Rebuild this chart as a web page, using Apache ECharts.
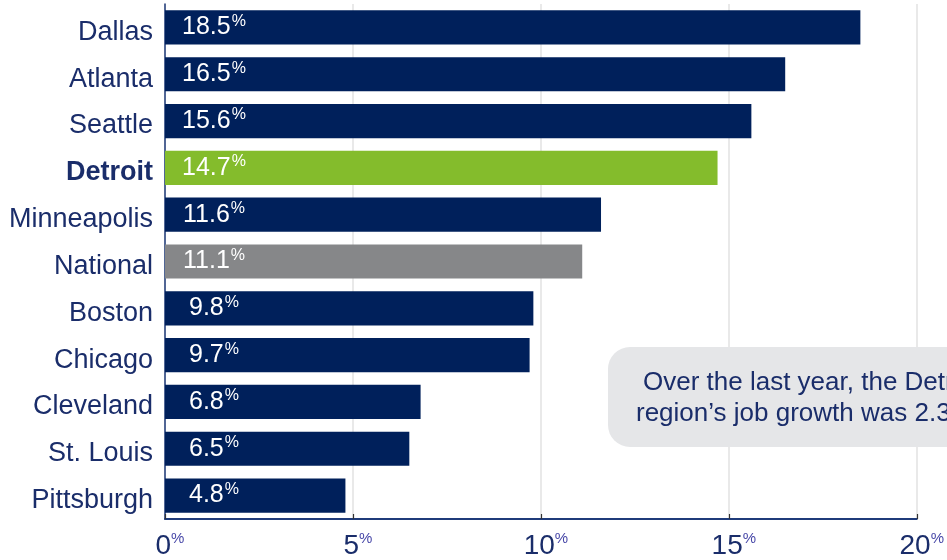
<!DOCTYPE html>
<html>
<head>
<meta charset="utf-8">
<script src="https://cdn.jsdelivr.net/npm/echarts@6/dist/echarts.min.js"></script>
<style>
html,body{margin:0;padding:0;background:#fff;}
#chart{width:947px;height:560px;}
</style>
</head>
<body>
<div id="chart"></div>
<script>
// ---- data ----
const cities = ['Dallas','Atlanta','Seattle','Detroit','Minneapolis','National','Boston','Chicago','Cleveland','St. Louis','Pittsburgh'];
const growth = [18.5, 16.5, 15.6, 14.7, 11.6, 11.1, 9.8, 9.7, 6.8, 6.5, 4.8];
const xTickValues = [0, 5, 10, 15, 20];
const highlightCity = 'Detroit';
const benchmarkCity = 'National';
const calloutLines = ['Over the last year, the Detroit', 'region\u2019s job growth was 2.3%'];

// ---- styles ----
const NAVY = '#00205b';
const GREEN = '#84bc2c';
const GRAY = '#868789';
const TEXT = '#1a2d6a';
const FONT = '"Liberation Sans", Arial, sans-serif';

const chart = echarts.init(document.getElementById('chart'));

const barData = cities.map((c, i) => ({
  value: growth[i],
  itemStyle: { color: c === highlightCity ? GREEN : (c === benchmarkCity ? GRAY : NAVY) }
}));

const option = {
  animation: false,
  grid: { left: 165, right: 26, top: 4, bottom: 40, containLabel: false },
  xAxis: {
    type: 'value',
    min: xTickValues[0],
    max: xTickValues[xTickValues.length - 1],
    interval: xTickValues[1] - xTickValues[0],
    axisLine: { show: true, lineStyle: { color: '#1f3b7a', width: 2 } },
    axisTick: { show: true, inside: true, length: 5, lineStyle: { color: '#333', width: 1.2 } },
    splitLine: { show: true, lineStyle: { color: '#e2e2e2', width: 1.5 } },
    axisLabel: {
      margin: 12,
      padding: [0, 0, 0, 10],
      formatter: v => '{n|' + v + '}{p|%}',
      rich: {
        n: { fontFamily: FONT, fontSize: 28, color: TEXT, lineHeight: 30 },
        p: { fontFamily: FONT, fontSize: 15, color: '#4848a8', verticalAlign: 'top', lineHeight: 12 }
      }
    }
  },
  yAxis: {
    type: 'category',
    data: cities,
    inverse: true,
    axisLine: { show: true, lineStyle: { color: '#1f3b7a', width: 1.5 } },
    axisTick: { show: false },
    axisLabel: {
      margin: 12,
      padding: [10, 0, 0, 0],
      formatter: v => v === highlightCity ? '{b|' + v + '}' : '{n|' + v + '}',
      rich: {
        n: { fontFamily: FONT, fontSize: 27, color: TEXT },
        b: { fontFamily: FONT, fontSize: 27, fontWeight: 'bold', color: TEXT }
      }
    }
  },
  series: [{
    type: 'bar',
    data: barData,
    barCategoryGap: '27%',
    label: {
      show: true,
      position: [49, '50%'],
      align: 'center',
      verticalAlign: 'middle',
      formatter: p => '{v|' + p.value.toFixed(1) + '}{p|%}',
      rich: {
        v: { fontFamily: FONT, fontSize: 25, color: '#fff', lineHeight: 28 },
        p: { fontFamily: FONT, fontSize: 16, color: '#fff', verticalAlign: 'top', lineHeight: 18, padding: [0, 0, 0, 1] }
      }
    }
  }],
  graphic: [
    {
      type: 'rect', z: 100,
      shape: { x: 608, y: 347, width: 420, height: 100, r: 22 },
      style: { fill: '#e5e6e8' }
    },
    {
      type: 'text', z: 101, x: 643, y: 383,
      style: { text: calloutLines[0], fontFamily: FONT, fontSize: 26, fill: TEXT, verticalAlign: 'middle', align: 'left' }
    },
    {
      type: 'text', z: 101, x: 636, y: 414,
      style: { text: calloutLines[1], fontFamily: FONT, fontSize: 26, fill: TEXT, verticalAlign: 'middle', align: 'left' }
    }
  ]
};
chart.setOption(option);
</script>
</body>
</html>
